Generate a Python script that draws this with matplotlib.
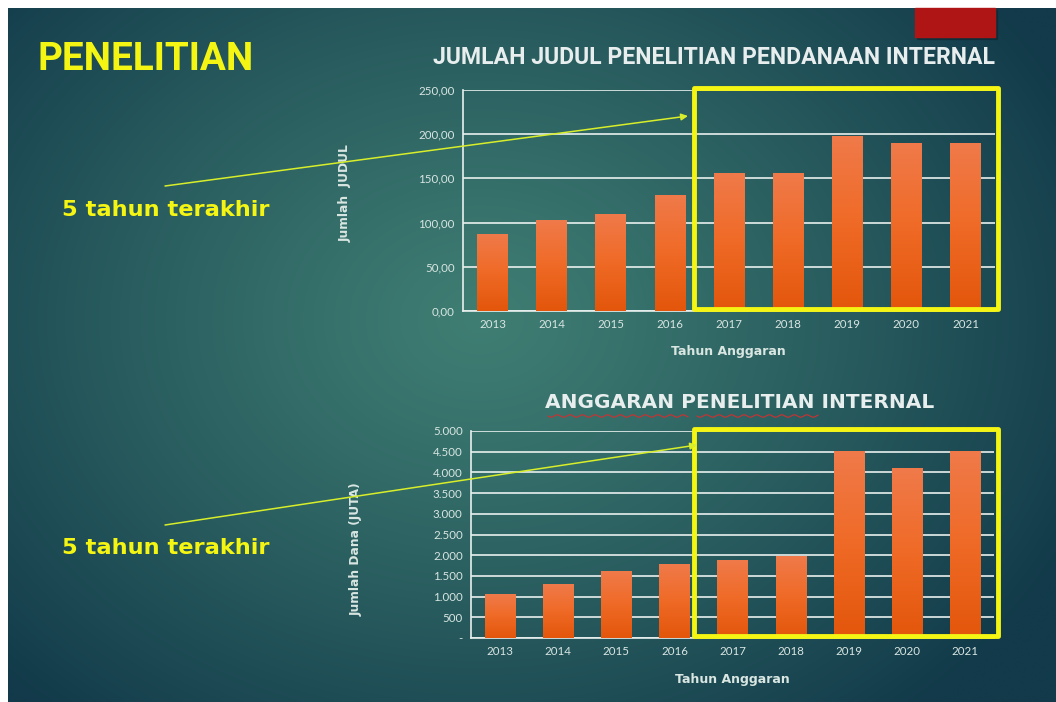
import numpy as np
import matplotlib
matplotlib.use("Agg")
import matplotlib.pyplot as plt
from matplotlib.colors import LinearSegmentedColormap, to_rgb
from matplotlib.patches import Rectangle
from matplotlib.lines import Line2D

# data
years = ["2013", "2014", "2015", "2016", "2017", "2018", "2019", "2020", "2021"]
jumlah_judul = [86, 102, 109, 131, 155, 155, 197, 190, 189]
anggaran_juta = [1040, 1300, 1600, 1785, 1875, 1960, 4500, 4090, 4500]
judul_ticks = [0, 50, 100, 150, 200, 250]
dana_ticks = [0, 500, 1000, 1500, 2000, 2500, 3000, 3500, 4000, 4500, 5000]

W, H = 1056, 702
fig = plt.figure(figsize=(W / 100, H / 100), dpi=100, facecolor="white")

def fx(x):
    return x / W

def fy(y):
    return 1 - y / H

def ax_rect(left, top, right, bottom):
    return [fx(left), fy(bottom), (right - left) / W, (bottom - top) / H]

# slide background (radial teal gradient)
bg = fig.add_axes([0, 0, 1, 1], zorder=0)
bg.set_xlim(0, W)
bg.set_ylim(H, 0)
bg.axis("off")
xx, yy = np.meshgrid(np.linspace(8, W, 400), np.linspace(8, H, 300))
d = np.sqrt(((xx - 480) / 660) ** 2 + ((yy - 320) / 520) ** 2)
t = np.clip(d, 0, 1) ** 1.15
light = np.array(to_rgb("#3f7e73"))
dark = np.array(to_rgb("#123a4a"))
img = light[None, None, :] * (1 - t[..., None]) + dark[None, None, :] * t[..., None]
bg.imshow(img, extent=(8, W, H, 8), aspect="auto", interpolation="bilinear")

# red block top right
bg.add_patch(Rectangle((917, 10), 80, 29, color="#0b2630", alpha=0.5))
bg.add_patch(Rectangle((915, 8), 80, 29, color="#b01515"))

yellow = "#f4f513"
tick_color = "#d9e6e2"
bar_cmap = LinearSegmentedColormap.from_list("bar", ["#e3560b", "#ef6a26", "#f07a4a"])
narrow = ["Roboto", "DejaVu Sans"]
wide = ["DejaVu Sans"]

fig.text(fx(37), fy(60), "PENELITIAN", color=yellow, fontsize=27.8, fontweight="bold",
         family=narrow, va="center", ha="left")
fig.text(fx(995), fy(58), "JUMLAH JUDUL PENELITIAN PENDANAAN INTERNAL", color="#e8eeee",
         fontsize=16.6, fontweight="bold", family=narrow, va="center", ha="right")
fig.text(fx(740), fy(402), "ANGGARAN PENELITIAN INTERNAL", color="#e8eeee",
         fontsize=14.5, fontweight="bold", family=wide, va="center", ha="center")

# spell-check squiggles under the lower title
for x0, x1 in [(548, 688), (697, 818)]:
    sx = np.linspace(x0, x1, 120)
    sy = 416 + 1.2 * np.sin((sx - x0) / 2.0)
    fig.add_artist(Line2D(fx(sx), fy(sy), color="#d03030", lw=0.8))

for ypos in [210, 548]:
    fig.text(fx(62), fy(ypos), "5 tahun terakhir", color=yellow, fontsize=16.2,
             fontweight="bold", family=wide, va="center", ha="left")


def draw_chart(rect, values, ticks, ymax, fmt, ylabel, ylabel_pos, xlabel_pos):
    ax = fig.add_axes(rect, zorder=2)
    ax.patch.set_alpha(0)
    pos = np.arange(len(years))
    width = 0.52
    grad = np.linspace(0, 1, 256).reshape(-1, 1)
    for p, v in zip(pos, values):
        ax.imshow(grad, extent=(p - width / 2, p + width / 2, 0, v), origin="lower",
                  cmap=bar_cmap, aspect="auto", zorder=3)
    ax.set_xlim(-0.5, len(years) - 0.5)
    ax.set_ylim(0, ymax)
    ax.set_yticks(ticks)
    ax.set_yticklabels([fmt(v) for v in ticks])
    ax.set_xticks(pos)
    ax.set_xticklabels(years)
    ax.grid(axis="y", color="#e8f0ee", lw=1.2, zorder=1)
    ax.set_axisbelow(True)
    for s in ["top", "right"]:
        ax.spines[s].set_visible(False)
    for s in ["left", "bottom"]:
        ax.spines[s].set_color("#e8f0ee")
        ax.spines[s].set_linewidth(1.2)
    ax.tick_params(length=0, colors=tick_color, labelsize=8.3, pad=6)
    for lab in ax.get_xticklabels() + ax.get_yticklabels():
        lab.set_family(["Lato", "DejaVu Sans"])
    fig.text(fx(ylabel_pos[0]), fy(ylabel_pos[1]), ylabel, rotation=90, color=tick_color,
             fontsize=8.8, fontweight="bold", family=wide, ha="center", va="center")
    fig.text(fx(xlabel_pos[0]), fy(xlabel_pos[1]), "Tahun Anggaran", color=tick_color,
             fontsize=9, fontweight="bold", family=wide, ha="center", va="center")
    return ax


def fmt_judul(v):
    return f"{v:.2f}".replace(".", ",")


def fmt_dana(v):
    return "-" if v == 0 else f"{v:,.0f}".replace(",", ".")


draw_chart(ax_rect(463, 90, 995, 311), jumlah_judul, judul_ticks, 250, fmt_judul,
           "Jumlah  JUDUL", (345, 193), (728, 351))
draw_chart(ax_rect(471, 431, 994, 638), anggaran_juta, dana_ticks, 5000, fmt_dana,
           "Jumlah Dana (JUTA)", (356, 549), (732, 679))

# "last 5 years" frames and pointers
over = fig.add_axes([0, 0, 1, 1], zorder=5)
over.set_xlim(0, W)
over.set_ylim(H, 0)
over.axis("off")
for top, bottom in [(88, 309), (429, 636)]:
    over.add_patch(Rectangle((694, top), 304, bottom - top, fill=False,
                             edgecolor=yellow, lw=3.5, joinstyle="round"))
for start, end in [((165, 186), (688, 116)), ((165, 525), (697, 445))]:
    over.annotate("", xy=end, xytext=start,
                  arrowprops=dict(arrowstyle="-|>", color="#d8ee2a", lw=1.1,
                                  mutation_scale=10, shrinkA=0, shrinkB=0))

fig.savefig("out.png", dpi=100, facecolor=fig.get_facecolor())
